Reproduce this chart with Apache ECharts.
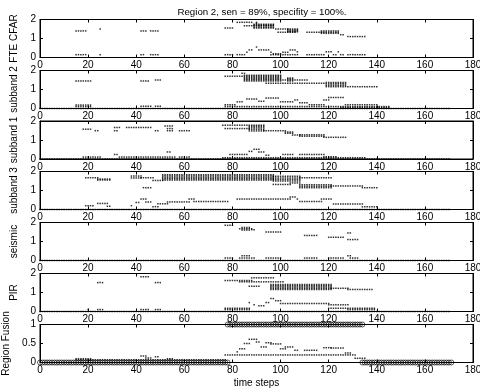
<!DOCTYPE html>
<html>
<head>
<meta charset="utf-8">
<title>Region 2</title>
<style>
  * { margin: 0; padding: 0; }
  html, body { width: 100%; height: 100%; background: #fff; }
  #chart { width: 480px; height: 392px; }
</style>
</head>
<body>
<div id="chart"></div>
<script src="https://cdn.jsdelivr.net/npm/echarts@6/dist/echarts.min.js"></script>
<script>
// runs: [first step, last step, value or stacked values]
const panelNames = ['FTE CFAR', 'subband 2', 'subband 1', 'subband 3', 'seismic', 'PIR', 'Region Fusion'];

const fteCfar = [
  [15, 19, 1.4], [25, 25, 1.5], [42, 44, 1.4], [46, 49, 1.4],
  [77, 80, 1.55], [82, 88, 1.85], [90, 90, [1.8, 1.85]], [85, 97, 1.67],
  [89, 97, [1.55, 1.6, 1.7, 1.75]], [98, 103, 1.5], [103, 107, [1.35, 1.4, 1.45, 1.5]],
  [99, 106, 1.33], [111, 117, 1.33], [117, 124, [1.27, 1.33, 1.4]], [125, 126, 1.2], [128, 135, 1.1],
  [15, 19, 0.15], [25, 25, 0.15], [42, 43, 0.15], [46, 49, 0.15], [77, 80, 0.15], [82, 85, 0.15],
  [86, 86, 0.27], [87, 88, 0.4], [90, 90, 0.55], [91, 95, 0.4], [96, 96, 0.27], [97, 100, 0.2],
  [101, 103, 0.27], [104, 106, 0.4], [107, 107, 0.3], [96, 107, 0.15],
  [111, 118, 0.15], [119, 121, 0.3], [122, 123, 0.15], [124, 124, 0.3], [125, 126, 0.15], [128, 135, 0.15]
];

const subband2 = [
  [15, 21, 1.45], [42, 45, 1.45], [48, 50, 1.5],
  [77, 84, 1.7], [84, 85, 1.85], [85, 100, [1.45, 1.51, 1.57, 1.63, 1.69, 1.75]],
  [101, 111, 1.5], [103, 105, [1.45, 1.55, 1.6]], [94, 118, 1.33],
  [119, 127, [1.15, 1.22, 1.3, 1.37]], [128, 140, 1.15],
  [0, 170, 0], [15, 21, [0.1, 0.18]], [42, 46, 0.12], [48, 50, 0.12],
  [77, 81, 0.2], [77, 145, 0.1], [82, 84, 0.35], [86, 90, 0.5], [91, 93, 0.38], [94, 99, 0.55],
  [100, 105, 0.35], [106, 107, 0.45], [108, 111, 0.3], [112, 118, 0.2], [118, 120, 0.45],
  [120, 126, 0.58], [127, 140, 0.2], [125, 145, 0.05]
];

const subband1 = [
  [18, 21, 1.57], [23, 24, 1.49], [31, 33, 1.66], [31, 32, 1.49], [36, 46, 1.66], [48, 49, 1.49],
  [52, 55, 1.74], [53, 55, 1.6], [53, 55, 1.49], [58, 62, 1.49],
  [76, 86, 1.78], [77, 87, 1.6], [87, 93, [1.48, 1.56, 1.64, 1.72, 1.78]], [93, 102, 1.49],
  [102, 105, [1.35, 1.42]], [105, 108, 1.26], [108, 118, [1.2, 1.27]], [118, 127, 1.14],
  [0, 170, 0], [18, 25, 0.1], [33, 47, 0.1], [48, 56, 0.1], [58, 62, 0.1], [31, 32, 0.24], [53, 54, 0.37],
  [76, 135, 0.07], [79, 86, 0.24], [87, 88, 0.4], [89, 91, 0.51], [91, 93, 0.37], [94, 95, 0.2],
  [101, 105, 0.24], [108, 118, 0.24], [118, 123, 0.12]
];

const subband3 = [
  [19, 24, 1.67], [24, 29, [1.55, 1.6]], [38, 42, [1.66, 1.76]], [42, 47, 1.67], [47, 51, 1.53],
  [51, 97, [1.55, 1.62, 1.69, 1.76, 1.83]], [43, 46, 1.15], [97, 108, [1.5, 1.58, 1.66, 1.75]],
  [108, 121, 1.67], [97, 104, 1.32], [104, 108, 1.4], [108, 121, [1.15, 1.22, 1.3]],
  [121, 134, 1.24], [134, 140, 1.15],
  [0, 170, 0], [19, 22, 0.2], [24, 28, 0.32], [28, 29, 0.17], [38, 38, 0.2], [40, 41, 0.37],
  [42, 44, 0.55], [44, 46, 0.4], [47, 49, 0.15], [49, 53, 0.3], [53, 62, 0.4], [62, 64, 0.55],
  [64, 78, 0.42], [82, 104, 0.55], [104, 106, 0.66], [107, 107, 0.55], [108, 117, 0.42],
  [117, 121, 0.55], [122, 134, 0.29], [134, 140, 0.14]
];

const seismic = [
  [77, 80, 1.85], [83, 88, 1.67], [84, 87, [1.6, 1.74]], [88, 89, 1.62], [94, 100, 1.5],
  [110, 115, 1.32], [120, 126, 1.22], [128, 129, 1.45], [128, 132, 1.1],
  [0, 170, 0], [77, 80, 0.13], [83, 89, 0.13], [84, 87, 0.25], [94, 100, 0.13],
  [110, 115, 0.13], [120, 126, 0.13], [128, 129, 0.25], [129, 132, 0.13]
];

const pir = [
  [24, 26, 1.52], [42, 45, 1.83], [48, 50, 1.52], [77, 88, 1.63], [88, 97, 1.77], [83, 101, 1.56],
  [87, 91, 1.33], [96, 121, [1.16, 1.22, 1.29, 1.36, 1.42]], [121, 128, 1.22], [128, 138, 1.16],
  [0, 170, 0], [20, 20, 0.1], [24, 26, 0.1], [42, 45, 0.1], [48, 50, 0.1], [77, 87, [0.1, 0.17]],
  [87, 87, 0.47], [89, 89, 0.35], [91, 93, 0.3], [94, 95, 0.47], [96, 97, 0.68], [98, 100, 0.57],
  [100, 120, 0.42], [120, 128, 0.35], [120, 127, 0.17], [128, 139, [0.1, 0.17]]
];

const fusionDots = [
  [15, 21, [0.07, 0.1]], [21, 77, 0.07], [42, 44, 0.17], [44, 46, 0.12], [48, 49, 0.15], [53, 55, 0.1],
  [77, 131, 0.2], [82, 82, 0.28], [83, 85, 0.36], [85, 87, 0.5], [87, 90, 0.61], [90, 91, 0.54],
  [92, 94, 0.41], [94, 96, 0.52], [96, 100, 0.49], [100, 102, 0.36], [102, 105, 0.41],
  [106, 107, 0.32], [110, 115, 0.32], [118, 121, 0.39], [121, 126, 0.38], [127, 129, 0.25],
  [131, 135, 0.11]
];

const fusionCircles = [[0, 78, 0], [78, 134, 1], [134, 171, 0]];

const panels = [fteCfar, subband2, subband1, subband3, seismic, pir, fusionDots];
const xTicks = [0, 180, 20];      // min, max, interval
const yTicks = [[0, 2, 1], [0, 1, 0.5]];

const panelTops = [19.5, 70.5, 121, 171.5, 222.5, 273.5, 324.5];

const expand = (runs) => {
  const pts = [];
  runs.forEach(([a, b, y]) => {
    const ys = Array.isArray(y) ? y : [y];
    for (let x = a; x <= b; x++) ys.forEach(v => pts.push([x, v]));
  });
  return pts;
};

const font = 'Liberation Sans, Arial, sans-serif';
const grid = [], xAxis = [], yAxis = [], series = [];

panels.forEach((runs, i) => {
  const last = i === panels.length - 1;
  const yt = last ? yTicks[1] : yTicks[0];
  grid.push({
    left: 40, right: 7, top: panelTops[i], height: 38,
    containLabel: false, outerBoundsMode: 'none',
    show: true, borderColor: '#000', borderWidth: 1
  });
  const xBase = {
    gridIndex: i, type: 'value', min: xTicks[0], max: xTicks[1], interval: xTicks[2],
    splitLine: { show: false },
    axisLine: { show: true, onZero: false, lineStyle: { color: '#000', width: 1 } },
    axisTick: { show: true, inside: true, length: 3, lineStyle: { color: '#000' } }
  };
  xAxis.push(Object.assign({}, xBase, {
    position: 'bottom',
    axisLabel: { show: true, margin: 3, color: '#000', fontSize: 10, fontFamily: font },
    name: last ? 'time steps' : '', nameLocation: 'middle', nameGap: 16,
    nameTextStyle: { color: '#000', fontSize: 10, fontFamily: font }
  }));
  xAxis.push(Object.assign({}, xBase, { position: 'top', axisLabel: { show: false } }));
  const yBase = {
    gridIndex: i, type: 'value', min: yt[0], max: yt[1], interval: yt[2],
    splitLine: { show: false },
    axisLine: { show: true, onZero: false, lineStyle: { color: '#000', width: 1 } },
    axisTick: { show: true, inside: true, length: 3, lineStyle: { color: '#000' } }
  };
  yAxis.push(Object.assign({}, yBase, {
    position: 'left',
    axisLabel: { show: true, margin: 4, color: '#000', fontSize: 10, fontFamily: font },
    name: panelNames[i], nameLocation: 'middle', nameGap: 14,
    nameTextStyle: { color: '#000', fontSize: 10, fontFamily: font }
  }));
  yAxis.push(Object.assign({}, yBase, { position: 'right', axisLabel: { show: false } }));

  if (last) {
    series.push({
      type: 'scatter', xAxisIndex: 2 * i, yAxisIndex: 2 * i, data: expand(fusionCircles),
      symbol: 'circle', symbolSize: 5, silent: true,
      itemStyle: { color: 'rgba(0,0,0,0)', borderColor: '#000', borderWidth: 0.8 }
    });
  }
  series.push({
    type: 'scatter', xAxisIndex: 2 * i, yAxisIndex: 2 * i, data: expand(runs),
    symbol: 'rect', symbolSize: 1.5, silent: true,
    itemStyle: { color: '#000' }
  });
});

const chart = echarts.init(document.getElementById('chart'), null, { renderer: 'canvas' });
chart.setOption({
  animation: false,
  backgroundColor: '#fff',
  title: {
    text: 'Region 2, sen = 89%, specifity = 100%.',
    left: 257, top: 2, textAlign: 'center',
    textStyle: { color: '#000', fontSize: 9.7, fontWeight: 'normal', fontFamily: font }
  },
  grid: grid,
  xAxis: xAxis,
  yAxis: yAxis,
  series: series
});
</script>
</body>
</html>
